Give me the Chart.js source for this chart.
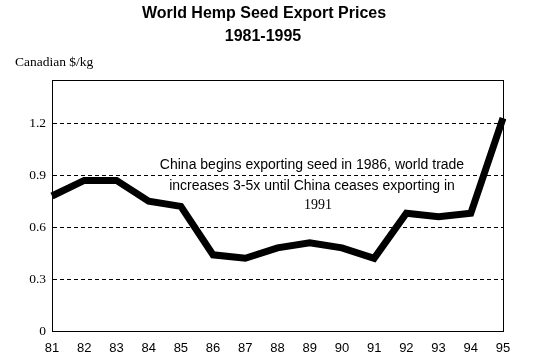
<!DOCTYPE html>
<html>
<head>
<meta charset="utf-8">
<script src="https://cdn.jsdelivr.net/npm/chart.js@4/dist/chart.umd.min.js"></script>
<style>
html,body{margin:0;padding:0;background:#fff;}
#wrap{position:relative;width:558px;height:355px;}
</style>
</head>
<body>
<div id="wrap"><canvas id="c" width="558" height="355"></canvas></div>
<script>
const years = ['81','82','83','84','85','86','87','88','89','90','91','92','93','94','95'];
const prices = [0.78,0.87,0.87,0.75,0.72,0.44,0.42,0.48,0.51,0.48,0.42,0.68,0.66,0.68,1.23];
const yTicks = [0,0.3,0.6,0.9,1.2];
const titleLines = ['World Hemp Seed Export Prices','1981-1995'];
const yAxisTitle = 'Canadian $/kg';
const noteLines = ['China begins exporting seed in 1986, world trade','increases 3-5x until China ceases exporting in','1991'];

const textPlugin = {
  id:'texts',
  afterDraw(chart){
    const ctx = chart.ctx, a = chart.chartArea;
    ctx.save();
    ctx.strokeStyle = '#000'; ctx.lineWidth = 1; ctx.setLineDash([]);
    ctx.strokeRect(Math.round(a.left)+0.5, Math.round(a.top)+0.5, Math.round(a.right-a.left), Math.round(a.bottom-a.top));
    ctx.fillStyle = '#000';
    ctx.textAlign = 'center'; ctx.textBaseline = 'middle';
    ctx.font = 'bold 16px "Liberation Sans", Arial, sans-serif';
    ctx.fillText(titleLines[0], 264, 14);
    ctx.fillText(titleLines[1], 263, 37);
    ctx.textAlign = 'left';
    ctx.font = '13.5px "Liberation Serif", "Times New Roman", serif';
    ctx.fillText(yAxisTitle, 15, 62);
    ctx.textAlign = 'center';
    ctx.font = '14px "Liberation Sans", Arial, sans-serif';
    ctx.fillText(noteLines[0], 312, 165);
    ctx.fillText(noteLines[1], 312, 186);
    ctx.font = '14px "Liberation Serif", "Times New Roman", serif';
    ctx.fillText(noteLines[2], 318, 205);
    ctx.restore();
  }
};

new Chart(document.getElementById('c'), {
  type:'line',
  data:{labels:years, datasets:[{data:prices, borderColor:'#000', borderWidth:7, pointRadius:0, tension:0, fill:false, borderCapStyle:'butt', borderJoinStyle:'miter'}]},
  options:{
    responsive:false, animation:false,
    layout:{padding:{left:0,right:55,top:80,bottom:0}},
    plugins:{legend:{display:false}, title:{display:false}, tooltip:{enabled:false}},
    scales:{
      x:{
        type:'category', offset:false,
        grid:{display:false, drawTicks:false},
        border:{display:true, color:'#000', width:1},
        ticks:{color:'#000', padding:10, maxRotation:0, autoSkip:false, font:{family:'"Liberation Sans", Arial, sans-serif', size:13}},
        afterFit:s=>{s.height=24;}
      },
      y:{
        min:0, max:1.45,
        afterBuildTicks:s=>{s.ticks = yTicks.map(v=>({value:v}));},
        grid:{color:'#000', lineWidth:1, drawTicks:false},
        border:{display:true, color:'#000', width:1, dash:[4,3]},
        ticks:{color:'#000', padding:6, font:{family:'"Liberation Serif", "Times New Roman", serif', size:13.5}, callback:v=>String(v)},
        afterFit:s=>{s.width=52;}
      }
    }
  },
  plugins:[textPlugin]
});
</script>
</body>
</html>
